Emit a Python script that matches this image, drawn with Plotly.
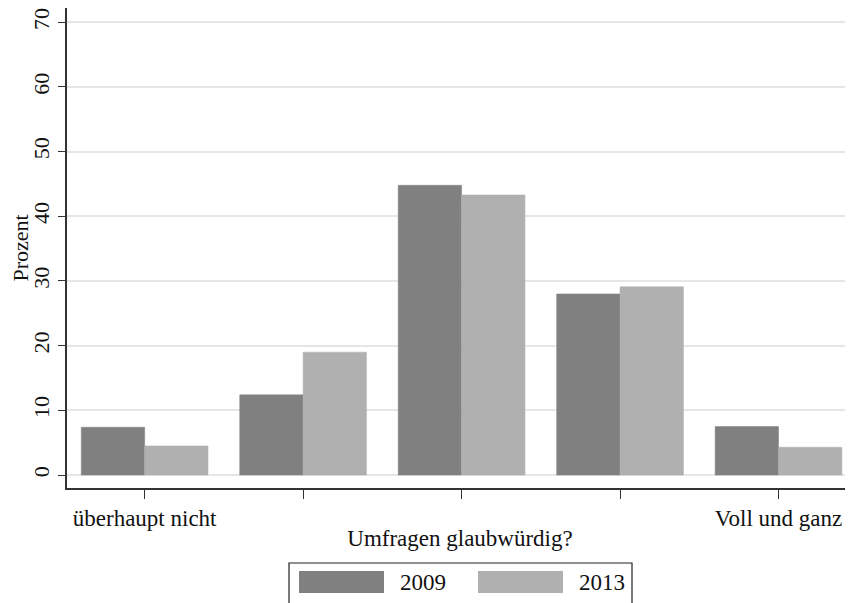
import plotly.graph_objects as go

categories = ["überhaupt nicht", "2", "3", "4", "Voll und ganz"]
tick_text = ["überhaupt nicht", "", "", "", "Voll und ganz"]
values_2009 = [7.4, 12.4, 44.8, 28.0, 7.5]
values_2013 = [4.5, 19.0, 43.3, 29.1, 4.3]
series_names = ["2009", "2013"]
colors = ["#808080", "#b0b0b0"]

FONT = "Liberation Serif, Times New Roman, serif"
FS = 23
OFF = 8  # page body margin
W, H = 853 - OFF, 603 - OFF
L, R, T, B = 67 - OFF, 0, 8 - OFF, 115
pw, ph = W - L - R, H - T - B

def px_x(x):
    return (x - OFF - L) / pw

def px_y(y):
    return (H - B - (y - OFF)) / ph

fig = go.Figure()
for name, vals, col in zip(series_names, [values_2009, values_2013], colors):
    fig.add_trace(go.Bar(x=categories, y=vals, name=name,
                         marker=dict(color=col, line=dict(color=col, width=0.5)),
                         showlegend=False))

# legend drawn as layout shapes/annotations (Stata-style wide swatches)
shapes = [dict(type="rect", xref="paper", yref="paper",
               x0=px_x(289), x1=px_x(632), y0=px_y(563), y1=px_y(615),
               line=dict(color="#222", width=1.2), fillcolor="white", layer="above")]
annotations = []
for i, (name, col) in enumerate(zip(series_names, colors)):
    sx = 299 + i * 179
    shapes.append(dict(type="rect", xref="paper", yref="paper",
                       x0=px_x(sx), x1=px_x(sx + 85), y0=px_y(571), y1=px_y(593),
                       line=dict(width=0), fillcolor=col, layer="above"))
    annotations.append(dict(xref="paper", yref="paper", x=px_x(sx + 99), y=px_y(582),
                            text=name, showarrow=False, xanchor="left", yanchor="middle",
                            font=dict(family=FONT, size=FS, color="#111")))

fig.update_layout(
    width=W, height=H,
    margin=dict(l=L, r=R, t=T, b=B),
    paper_bgcolor="white", plot_bgcolor="white",
    barmode="group", bargap=0.2, bargroupgap=0,
    font=dict(family=FONT, size=FS, color="#111"),
    shapes=shapes, annotations=annotations,
    xaxis=dict(range=[-0.49, 4.47], tickvals=categories, ticktext=tick_text,
               ticks="outside", ticklen=9, tickwidth=1.3, tickcolor="#333",
               showline=True, linecolor="#333", linewidth=1.5, showgrid=False,
               tickfont=dict(size=FS), automargin=False, ticklabeloverflow="allow",
               title=dict(text="Umfragen glaubwürdig?", font=dict(size=FS), standoff=0)),
    yaxis=dict(range=[-2.0, 72.2], tickvals=[0, 10, 20, 30, 40, 50, 60, 70],
               ticks="outside", ticklen=7, tickwidth=1.3, tickcolor="#333",
               tickangle=-90, tickfont=dict(size=22), automargin=False,
               ticklabeloverflow="allow",
               showline=True, linecolor="#333", linewidth=1.5,
               showgrid=True, gridcolor="#e6e6e6", gridwidth=1.5, zeroline=False,
               title=dict(text="Prozent", font=dict(size=22), standoff=2)),
)

fig.write_html("out.html")
